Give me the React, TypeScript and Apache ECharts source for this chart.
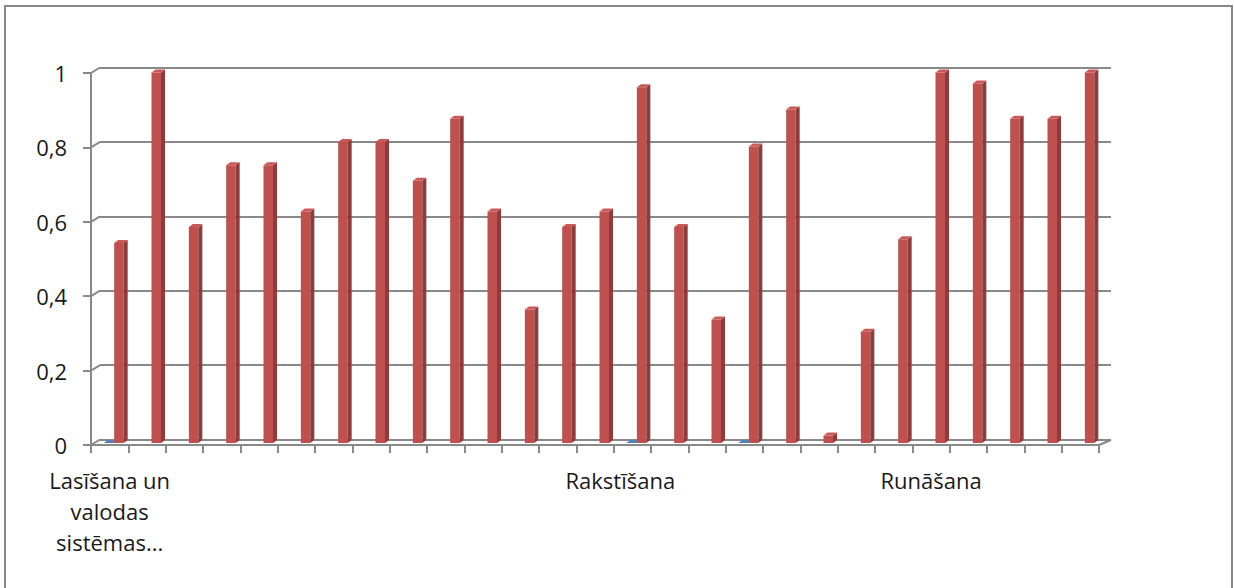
import React, { useEffect, useRef } from "react";
import * as echarts from "echarts";

const categories: string[] = [
  "Lasīšana un valodas sistēmas...", "", "", "", "", "", "", "", "", "", "", "", "", "",
  "Rakstīšana", "", "", "", "", "", "", "",
  "Runāšana", "", "", "", "",
];

const seriesA: (number | null)[] = [
  0, null, null, null, null, null, null, null, null, null, null, null, null, null,
  0, null, null, 0, null, null, null, null, null, null, null, null, null,
];

const seriesB: number[] = [
  0.54, 1, 0.583, 0.75, 0.75, 0.625, 0.8125, 0.8125, 0.708, 0.875,
  0.625, 0.36, 0.583, 0.625, 0.96, 0.583, 0.333, 0.8, 0.9,
  0.02, 0.3, 0.55, 1, 0.97, 0.875, 0.875, 1,
];

const yTicks: number[] = [0, 0.2, 0.4, 0.6, 0.8, 1];

const FONT = "'Open Sans', sans-serif";
const GRAY = "#898989";

function wrapLabel(s: string, maxChars: number): string {
  const words = s.split(" ");
  const lines: string[] = [];
  let cur = "";
  for (const w of words) {
    if (!cur) cur = w;
    else if ((cur + " " + w).length <= maxChars) cur = cur + " " + w;
    else {
      lines.push(cur);
      cur = w;
    }
  }
  if (cur) lines.push(cur);
  return lines.join("\n");
}

export default function App() {
  const ref = useRef<HTMLDivElement>(null);

  useEffect(() => {
    if (!ref.current) return;
    const chart = echarts.init(ref.current, null, { renderer: "svg" });

    const makeBar = (colors: { front: string; side: string; top: string }, off0: number, off1: number) =>
      (params: any, api: any) => {
        const idx = api.value(0);
        const v = api.value(1);
        const top = api.coord([idx, v]);
        const base = api.coord([idx, 0]);
        const cx = top[0];
        const x0 = cx + off0;
        const x1 = cx + off1;
        const dx = 4;
        const dy = 3;
        const ty = top[1];
        const by = base[1];
        return {
          type: "group",
          children: [
            {
              type: "rect",
              shape: { x: x0, y: ty, width: x1 - x0, height: by - ty },
              style: { fill: colors.front },
            },
            {
              type: "polygon",
              shape: { points: [[x1, ty], [x1 + dx, ty - dy], [x1 + dx, by - dy], [x1, by]] },
              style: { fill: colors.side },
            },
            {
              type: "polygon",
              shape: { points: [[x0, ty], [x0 + dx, ty - dy], [x1 + dx, ty - dy], [x1, ty]] },
              style: { fill: colors.top },
            },
          ],
        };
      };

    const redData = seriesB.map((v, i) => [i, v]);
    const blueData = seriesA
      .map((v, i) => (v === null ? null : [i, v]))
      .filter((d) => d !== null) as number[][];

    const option: any = {
      animation: false,
      backgroundColor: "#ffffff",
      grid: [
        { left: 91, right: 135, top: 73, bottom: 143 },
        { left: 100, right: 123, top: 67.5, bottom: 148.5 },
        { left: 91, right: 135, top: 72.5, bottom: 145 },
      ],
      xAxis: [
        {
          type: "category",
          gridIndex: 0,
          data: categories,
          boundaryGap: true,
          axisLine: { show: true, lineStyle: { color: GRAY, width: 2 } },
          axisTick: { show: true, interval: 0, length: 8, lineStyle: { color: GRAY, width: 2 } },
          axisLabel: {
            interval: 0,
            margin: 19,
            color: "#1a1a1a",
            fontFamily: FONT,
            fontSize: 22,
            lineHeight: 31,
            formatter: (v: string) =>
              v === "Rakstīšana" ? `{r|${v}}` : wrapLabel(v, 11),
            rich: {
              r: {
                fontFamily: FONT,
                fontSize: 22,
                lineHeight: 31,
                color: "#1a1a1a",
                padding: [0, 24, 0, 0],
              },
            },
          },
          splitLine: { show: false },
        },
        {
          type: "category",
          gridIndex: 1,
          data: categories,
          show: false,
        },
        {
          type: "category",
          gridIndex: 2,
          data: categories,
          show: false,
        },
      ],
      yAxis: [
        {
          type: "value",
          gridIndex: 0,
          min: 0,
          max: 1,
          interval: 0.2,
          axisLine: { show: true, lineStyle: { color: GRAY, width: 2 } },
          axisTick: { show: true, length: 8, lineStyle: { color: GRAY, width: 2 } },
          axisLabel: {
            margin: 24,
            color: "#1a1a1a",
            fontFamily: FONT,
            fontSize: 22,
            formatter: (v: number) => String(Math.round(v * 10) / 10).replace(".", ","),
          },
          splitLine: { show: false },
        },
        {
          type: "value",
          gridIndex: 1,
          min: 0,
          max: 1,
          interval: 0.2,
          axisLine: { show: false },
          axisTick: { show: false },
          axisLabel: { show: false },
          splitLine: { show: true, lineStyle: { color: GRAY, width: 2 } },
        },
        {
          type: "value",
          gridIndex: 2,
          min: 0,
          max: 1,
          show: false,
          splitLine: { show: false },
        },
      ],
      series: [
        {
          name: "wall",
          type: "custom",
          xAxisIndex: 0,
          yAxisIndex: 0,
          silent: true,
          data: yTicks.map((v) => [0, v]),
          encode: { x: 0, y: 1 },
          renderItem: (params: any, api: any) => {
            const p = api.coord([0, api.value(1)]);
            const x = params.coordSys.x;
            const children: any[] = [
              {
                type: "line",
                shape: { x1: x, y1: p[1], x2: x + 9, y2: p[1] - 5.5 },
                style: { stroke: GRAY, lineWidth: 2 },
              },
            ];
            if (api.value(1) === 0) {
              const xr = params.coordSys.x + params.coordSys.width;
              children.push({
                type: "line",
                shape: { x1: xr, y1: p[1], x2: xr + 12, y2: p[1] - 5 },
                style: { stroke: GRAY, lineWidth: 2 },
              });
            }
            return { type: "group", children };
          },
          z: 1,
        },
        {
          name: "A",
          type: "custom",
          xAxisIndex: 2,
          yAxisIndex: 2,
          data: blueData,
          encode: { x: 0, y: 1 },
          renderItem: makeBar({ front: "#4F81BD", side: "#385D8A", top: "#4F81BD" }, -6, 4),
          z: 3,
        },
        {
          name: "B",
          type: "custom",
          xAxisIndex: 2,
          yAxisIndex: 2,
          data: redData,
          encode: { x: 0, y: 1 },
          renderItem: makeBar({ front: "#C0504D", side: "#8E3B39", top: "#C95A57" }, 4.5, 14),
          z: 4,
        },
      ],
      graphic: [
        {
          type: "rect",
          shape: { x: 5, y: 6, width: 1227, height: 600 },
          style: { fill: "none", stroke: "#888888", lineWidth: 2 },
          silent: true,
          z: 10,
        },
      ],
    };

    chart.setOption(option);
    return () => chart.dispose();
  }, []);

  return (
    <div
      ref={ref}
      style={{ position: "fixed", left: 0, top: 0, width: 1234, height: 588, background: "#fff" }}
    />
  );
}
